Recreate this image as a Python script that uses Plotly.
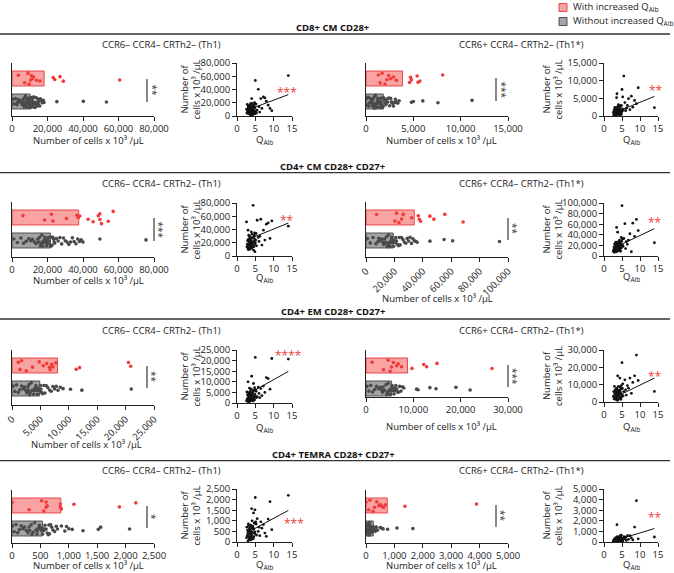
import plotly.graph_objects as go

W, H = 674, 573

# ------------------------------------------------------------------ data
section_titles = ["CD8+ CM CD28+", "CD4+ CM CD28+ CD27+",
                  "CD4+ EM CD28+ CD27+", "CD4+ TEMRA CD28+ CD27+"]
subset_titles = ["CCR6– CCR4– CRTh2– (Th1)", "CCR6+ CCR4– CRTh2– (Th1*)"]
cat_without = "Without increased Q<sub>Alb</sub>"
cat_with = "With increased Q<sub>Alb</sub>"
x_title = "Number of cells x 10³ /µL"
sc_y_title = "Number of<br>cells x 10³ /µL"
sc_x_title = "Q<sub>Alb</sub>"

# bar means (cells x 10^3/uL)
bar_with = [18100, 3860, 37600, 34000, 8000, 8780, 860, 750]
bar_without = [10200, 1830, 21600, 19200, 4880, 5410, 535, 257]

# axis maxima and tick steps
x_max = [80000, 15000, 80000, 100000, 25000, 30000, 2500, 5000]
x_step = [20000, 5000, 20000, 20000, 5000, 10000, 500, 1000]
q_max = 15
q_step = 5

sig_bar = ["**", "***", "***", "**", "**", "***", "*", "**"]
sig_corr = ["***", "**", "**", "**", "****", "**", "***", "**"]

# individual values, with increased QAlb
with_p1 = [3600, 7100, 9000, 9600, 10500, 10900, 11500, 12100, 13900, 15800,
           23200, 24100, 27000, 28900, 60700]
with_p2 = [1300, 1500, 1700, 2000, 2200, 2400, 2600, 2900, 3200, 4600, 4800,
           4700, 5500, 5400, 5700, 8100]
with_p3 = [6200, 18400, 22200, 23100, 30700, 36700, 37300, 38200, 42900, 45700,
           48600, 49500, 49500, 50400, 54200, 57000]
with_p4 = [7500, 20400, 21500, 23200, 25100, 26200, 32100, 36800, 37500, 38400,
           45000, 47800, 55500, 68400]
with_p5 = [1100, 1400, 1700, 2500, 3600, 4800, 5500, 6100, 6600, 6700, 7000,
           7200, 7700, 11300, 11900, 20500, 20900]
with_p6 = [1300, 3700, 4700, 5100, 5400, 5800, 6500, 6800, 7500, 9700, 12200,
           12800, 15000, 26600]
with_p7 = [0, 300, 520, 560, 600, 600, 620, 850, 850, 870, 1090, 1890, 2180]
with_p8 = [0, 100, 140, 250, 300, 380, 450, 500, 560, 620, 680, 1370, 3890]

# individual values, without increased QAlb
without_p1 = [500, 1200, 2000, 2800, 3500, 4200, 4800, 5300, 5800, 6200, 6600,
              7000, 7300, 7600, 7900, 8200, 8500, 8800, 9000, 9300, 9600, 9800,
              10000, 10300, 10500, 10800, 11000, 11300, 11500, 11800, 12000,
              12300, 12600, 12900, 13200, 13500, 13800, 14100, 14400, 14800,
              15200, 15600, 16000, 16500, 17000, 17600, 18000, 6800, 8000, 9100,
              10600, 11600, 12700, 9400, 7700, 13000, 3000, 15000, 25300, 40200,
              53200]
without_p2 = [50, 150, 250, 350, 450, 550, 650, 750, 850, 950, 1000, 1100, 1150,
              1200, 1300, 1350, 1400, 1500, 1550, 1600, 1700, 1750, 1800, 1900,
              2000, 2100, 2200, 2300, 2400, 2500, 2600, 2700, 2800, 2900, 3000,
              3100, 3200, 3350, 3500, 300, 600, 900, 1250, 1650, 2050, 700, 1050,
              1450, 800, 4800, 5000, 6000, 7600, 11200]
without_p3 = [1000, 3000, 5000, 6500, 8000, 9500, 10500, 11500, 12500, 13500,
              14500, 15000, 15500, 16000, 16500, 17000, 17500, 18000, 18500,
              19000, 19500, 20000, 20500, 21000, 21500, 22000, 22500, 23000,
              23500, 24000, 25000, 26000, 27000, 28000, 29000, 30000, 31000,
              32000, 33000, 34000, 35000, 36000, 37000, 38000, 39000, 40000,
              17200, 19800, 21800, 23800, 16800, 18800, 38800, 49500, 75500]
without_p4 = [1000, 3000, 5000, 7000, 8500, 10000, 11000, 12000, 13000, 14000,
              15000, 15500, 16000, 16500, 17000, 17500, 18000, 18500, 19000,
              19500, 20000, 20500, 21000, 22000, 23000, 24000, 25000, 26000,
              27000, 28000, 29000, 30000, 31000, 32000, 33000, 34000, 35000,
              36000, 12500, 14500, 17800, 21500, 23500, 9000, 45000, 55000,
              61000, 94000]
without_p5 = [200, 500, 800, 1100, 1400, 1700, 2000, 2200, 2400, 2600, 2800,
              3000, 3200, 3400, 3600, 3800, 4000, 4200, 4400, 4600, 4800, 5000,
              5200, 5400, 5600, 5800, 6000, 6300, 6600, 6900, 7200, 7500, 7800,
              8100, 8500, 9000, 3100, 3900, 4500, 5100, 2900, 4300, 10300, 12300,
              21000]
without_p6 = [200, 600, 1000, 1400, 1800, 2200, 2600, 3000, 3300, 3600, 3900,
              4200, 4500, 4700, 4900, 5100, 5300, 5500, 5700, 5900, 6100, 6300,
              6500, 6700, 6900, 7100, 7400, 7700, 8000, 4400, 5000, 5600, 6200,
              3500, 10700, 11000, 13500, 14800, 19000, 22000]
without_p7 = [10, 40, 70, 100, 130, 160, 190, 220, 250, 280, 310, 340, 370, 400,
              420, 440, 460, 480, 500, 520, 540, 560, 580, 600, 620, 640, 660,
              680, 700, 720, 750, 780, 800, 350, 450, 550, 650, 300, 870, 930,
              960, 1000, 1060, 1250, 1520, 1560, 2070]
without_p8 = [5, 15, 25, 35, 45, 55, 65, 75, 85, 95, 105, 115, 125, 135, 145,
              160, 175, 190, 205, 220, 240, 260, 280, 300, 330, 360, 400, 110,
              130, 150, 90, 70, 500, 560, 600, 760, 1090, 1650]

# correlation data: QAlb per patient and cell counts per panel
q_alb = [14.0, 9.5, 9.0, 8.5, 8.0, 7.6, 7.2, 6.8, 6.5, 6.2, 6.0, 5.8, 5.5, 5.2,
         5.0, 4.9, 4.8, 4.7, 4.6, 4.5, 4.5, 4.4, 4.3, 4.2, 4.1, 4.0, 4.0, 3.9,
         3.8, 3.8, 3.7, 3.6, 3.6, 3.5, 3.5, 3.4, 3.3, 3.3, 3.2, 3.1, 3.0, 3.0,
         2.9, 2.8, 2.7, 2.6, 5.1, 4.9, 4.6, 4.2, 3.9, 3.7, 3.4, 3.1, 4.8, 5.3,
         4.4, 3.6, 4.0, 3.2]
cells_p1 = [61000, 8000, 11400, 16400, 22400, 27300, 28800, 11400, 26300, 6000,
            14000, 40200, 9000, 18000, 53600, 12000, 5000, 15000, 8000, 17000,
            3000, 10000, 14000, 6000, 19000, 26300, 9000, 12500, 4000, 15500,
            7000, 11000, 2000, 13000, 8500, 16000, 5500, 10500, 14500, 3500,
            9500, 12000, 6500, 17500, 4500, 10000, 7500, 3500, 12500, 1500,
            7000, 18500, 11500, 15000, 20000, 4500, 6000, 13500, 2500, 8000]
cells_p2 = [2360, 8000, 3500, 4400, 2500, 5600, 1800, 4900, 3000, 2200, 1500,
            3800, 11300, 5400, 7500, 1200, 500, 2800, 900, 1800, 300, 1500, 2300,
            700, 1100, 3200, 400, 1900, 800, 1300, 2600, 600, 1000, 5200, 1600,
            200, 900, 2100, 1400, 500, 1200, 2400, 700, 1700, 300, 1000, 2000,
            1300, 600, 2900, 1500, 800, 1100, 400, 3000, 1600, 900, 6300, 1400,
            700]
cells_p3 = [45000, 53000, 26500, 50000, 48000, 24000, 39000, 16500, 55500,
            30000, 22000, 28000, 54000, 34000, 20000, 25000, 18000, 31000, 14000,
            22000, 9000, 76500, 27000, 16000, 33000, 20000, 12000, 36500, 23000,
            15000, 28000, 19000, 10500, 25000, 17000, 30000, 13000, 21000, 26000,
            16000, 39000, 11000, 23000, 18000, 14000, 51500, 24000, 6500, 29000,
            19500, 12500, 24500, 20500, 9500, 35000, 15500, 27500, 22500, 17500,
            31500]
cells_p4 = [25000, 48000, 69000, 37000, 62000, 8000, 42000, 30000, 22000, 27000,
            14000, 61000, 33000, 20000, 95000, 28000, 15000, 22000, 9000, 18000,
            25000, 12000, 30000, 17000, 21000, 10000, 24000, 14000, 19000, 45000,
            11000, 23000, 16000, 54000, 8000, 20000, 13000, 26000, 18000, 10000,
            15000, 22000, 7000, 17000, 12000, 9000, 32000, 19000, 26000, 13000,
            21000, 16000, 11000, 24000, 35000, 18000, 14000, 20000, 27000, 12000]
cells_p5 = [20700, 21000, 6500, 11500, 12000, 5000, 8000, 3500, 6800, 2500,
            4500, 7500, 3000, 5500, 21500, 4000, 1500, 6000, 2500, 3500, 9200,
            1000, 5000, 2000, 4500, 12650, 3000, 6500, 1500, 4000, 2500, 5500,
            800, 3500, 2000, 7000, 1200, 4500, 3000, 500, 10000, 2500, 3800, 1800,
            5200, 1000, 6200, 2800, 3200, 1400, 4200, 2200, 3600, 1600, 7200,
            2600, 5800, 3400, 1900, 4800]
cells_p6 = [6100, 12400, 27100, 15100, 11300, 5000, 13800, 8000, 9500, 4000,
            7000, 12800, 6000, 10500, 22700, 3000, 7500, 1500, 5500, 8500, 2500,
            13800, 4500, 6500, 2000, 9000, 3500, 5000, 15100, 1000, 7000, 3000,
            6000, 2000, 8000, 4000, 1500, 5500, 3000, 7000, 2500, 4500, 9000, 1800,
            6000, 3200, 7800, 4200, 2800, 6800, 3800, 5200, 2200, 4800, 9500, 3500,
            5800, 1200, 6300, 2600]
cells_p7 = [2200, 580, 1900, 1080, 270, 420, 820, 650, 950, 300, 700, 500, 1100,
            850, 2100, 1520, 400, 900, 250, 600, 1370, 150, 750, 450, 1000, 1570,
            300, 650, 100, 500, 800, 200, 550, 350, 700, 150, 450, 600, 250, 850,
            400, 50, 550, 300, 700, 200, 950, 480, 620, 180, 380, 720, 120, 520,
            880, 330, 660, 240, 420, 780]
cells_p8 = [470, 300, 3900, 1410, 200, 380, 600, 250, 600, 150, 450, 300, 500,
            100, 350, 200, 50, 400, 150, 250, 600, 100, 300, 50, 450, 200, 120,
            350, 80, 250, 500, 1630, 150, 300, 60, 200, 400, 100, 250, 30, 180,
            320, 90, 220, 140, 60, 280, 160, 380, 110, 240, 70, 190, 130, 650,
            230, 170, 340, 90, 210]

# linear fits
fit_slope = [2091, 415, 2243, 3225, 970, 1015, 93.4, 102.5]
fit_intercept = [3030, -270, 18270, 6430, 1320, -400, 182, -170]

with_vals = [with_p1, with_p2, with_p3, with_p4, with_p5, with_p6, with_p7, with_p8]
without_vals = [without_p1, without_p2, without_p3, without_p4, without_p5,
                without_p6, without_p7, without_p8]
cells_vals = [cells_p1, cells_p2, cells_p3, cells_p4, cells_p5, cells_p6,
              cells_p7, cells_p8]

# ------------------------------------------------------------------ style
RED_FILL = "#F9A3A3"
RED_LINE = "#E8474A"
RED_DOT = "#F23A3A"
GRAY_FILL = "#A3A3A3"
GRAY_LINE = "#505050"
GRAY_DOT = "#4A4A4A"
INK = "#222222"
FONT = "Open Sans"
FS = 9.5


def fx(px):
    return px / W


def fy(py):
    return 1 - py / H


def note(x, y, text, size=FS, color=INK, xanchor="center", angle=0, bold=False):
    return dict(x=fx(x), y=fy(y), xref="paper", yref="paper",
                text=f"<b>{text}</b>" if bold else text, showarrow=False,
                xanchor=xanchor, yanchor="middle", textangle=angle,
                font=dict(size=size, color=color))


# panel geometry in pixels
bar_xpx = [(12, 154), (366, 508)]
sc_xpx = [(237, 292), (604, 658)]
bar_top = [63, 63, 202, 202, 350, 350, 490, 490]
bar_bot = [115.5, 115.5, 257, 257, 405, 397, 543, 543]
sc_top = [63, 63, 203, 203, 350, 350, 489, 489]
sc_bot = [116, 116, 256, 256, 403, 402, 542, 542]
tick_angle = [0, 0, 0, -45, -45, 0, 0, 0]
bar_title_y = [140, 140, 280, 298, 444, 426, 565, 565]
bar_title_x = [88, 441, 88, 437, 87, 441, 88, 441]
q_title_y = [140, 140, 278, 277, 428, 427, 565, 565]
q_title_x = [264, 631]
sc_ytitle_x = [190, 552]
bracket_x = [147, 496, 154, 508, 147, 508, 147, 496]
bracket_y = [(79, 102), (78, 101), (218, 241), (218, 240), (366, 388),
             (365, 387), (506, 528), (505, 527)]
corr_star_xy = [(287, 89), (656, 87), (287, 217), (655, 219), (288, 352),
                (655, 373), (294, 520), (655, 514)]
row_title_y = [28, 166.7, 311.7, 454]
row_line_y = [34, 172.7, 319, 460.7]
row_sub_y = [44.6, 183.3, 330, 470]
sub_x = [161, 521]

fig = go.Figure()
layout = dict(
    template="none",
    width=W, height=H, margin=dict(l=0, r=0, t=0, b=0, pad=0, autoexpand=False),
    paper_bgcolor="white", plot_bgcolor="white", showlegend=False,
    font=dict(family=FONT, size=FS, color=INK),
    boxmode="overlay",
)
annotations = []
shapes = []

for i in range(8):
    col = i % 2
    bx, by = f"x{2*i+1}", f"y{2*i+1}"
    sx, sy = f"x{2*i+2}", f"y{2*i+2}"
    bxa, bya = f"xaxis{2*i+1}", f"yaxis{2*i+1}"
    sxa, sya = f"xaxis{2*i+2}", f"yaxis{2*i+2}"

    # ---- bar + dots
    fig.add_trace(go.Bar(
        y=[cat_without, cat_with], x=[bar_without[i], bar_with[i]],
        orientation="h", width=0.65,
        marker=dict(color=[GRAY_FILL, RED_FILL],
                    line=dict(color=[GRAY_LINE, RED_LINE], width=1)),
        xaxis=bx, yaxis=by, hoverinfo="skip"))
    for vals, cat, col_dot in ((without_vals[i], cat_without, GRAY_DOT),
                               (with_vals[i], cat_with, RED_DOT)):
        fig.add_trace(go.Box(
            x=vals, y=[cat] * len(vals), orientation="h",
            boxpoints="all", jitter=1.0, pointpos=0, width=0.6,
            fillcolor="rgba(0,0,0,0)", line=dict(color="rgba(0,0,0,0)", width=0),
            marker=dict(color=col_dot, size=3.6),
            xaxis=bx, yaxis=by, hoverinfo="skip"))

    top, bot = bar_top[i], bar_bot[i]
    red_c = top + 15.5
    gray_c = red_c + 23
    yr = [-(bot - gray_c) / 23, 1 + (red_c - top) / 23]
    x0, x1 = bar_xpx[col]
    layout[bxa] = dict(
        domain=[fx(x0), fx(x1)], anchor=by, range=[0, x_max[i]],
        tickmode="linear", tick0=0, dtick=x_step[i], tickformat=",",
        ticks="outside", ticklen=4, tickwidth=1, tickcolor=INK,
        showline=True, linecolor=INK, linewidth=1, showgrid=False,
        zeroline=False, tickangle=tick_angle[i], automargin=False,
        tickfont=dict(size=FS, color=INK))
    layout[bya] = dict(
        domain=[fy(bot), fy(top)], anchor=bx, type="category",
        categoryorder="array", categoryarray=[cat_without, cat_with],
        range=yr, showline=True, linecolor=INK, linewidth=1, automargin=False,
        showticklabels=False, ticks="", showgrid=False, zeroline=False)

    annotations.append(note(bar_title_x[i], bar_title_y[i], x_title))

    # significance bracket
    b0, b1 = bracket_y[i]
    shapes.append(dict(type="line", xref="paper", yref="paper",
                       x0=fx(bracket_x[i]), x1=fx(bracket_x[i]),
                       y0=fy(b0), y1=fy(b1),
                       line=dict(color="#3a3a3a", width=1.2)))
    annotations.append(note(bracket_x[i] + 5, (b0 + b1) / 2, sig_bar[i],
                            size=10, color="#3a3a3a", angle=90))

    # ---- scatter with regression
    q = q_alb
    fig.add_trace(go.Scatter(
        x=q, y=cells_vals[i], mode="markers",
        marker=dict(color="#111111", size=2.8), cliponaxis=False,
        xaxis=sx, yaxis=sy, hoverinfo="skip"))
    qx = [min(q), max(q)]
    fig.add_trace(go.Scatter(
        x=qx, y=[fit_slope[i] * v + fit_intercept[i] for v in qx],
        mode="lines", line=dict(color="#111111", width=1),
        xaxis=sx, yaxis=sy, hoverinfo="skip"))
    s0, s1 = sc_xpx[col]
    layout[sxa] = dict(
        domain=[fx(s0), fx(s1)], anchor=sy, range=[0, q_max],
        tickmode="linear", tick0=0, dtick=q_step, ticks="outside", ticklen=4,
        tickwidth=1, tickcolor=INK, showline=True, linecolor=INK, linewidth=1,
        showgrid=False, zeroline=False, automargin=False,
        tickfont=dict(size=FS, color=INK))
    layout[sya] = dict(
        domain=[fy(sc_bot[i]), fy(sc_top[i])], anchor=sx, range=[0, x_max[i]],
        tickmode="linear", tick0=0, dtick=x_step[i], tickformat=",",
        ticks="outside", ticklen=4, tickwidth=1, tickcolor=INK,
        showline=True, linecolor=INK, linewidth=1, showgrid=False,
        zeroline=False, automargin=False, tickfont=dict(size=FS, color=INK))
    annotations.append(note(q_title_x[col], q_title_y[i], sc_x_title))
    annotations.append(note(sc_ytitle_x[col], (sc_top[i] + sc_bot[i]) / 2,
                            sc_y_title, angle=-90))
    cx, cy = corr_star_xy[i]
    annotations.append(note(cx, cy + 3, sig_corr[i], size=12, color="#F23A3A"))

# ---- section headers
for r in range(4):
    annotations.append(note(333, row_title_y[r], section_titles[r],
                            color="#111111", bold=True))
    shapes.append(dict(type="line", xref="paper", yref="paper",
                       x0=0, x1=fx(670), y0=fy(row_line_y[r]), y1=fy(row_line_y[r]),
                       line=dict(color="#333333", width=1.3)))
    for c in range(2):
        annotations.append(note(sub_x[c], row_sub_y[r], subset_titles[c]))

# ---- legend
for k, (lab, fill, edge) in enumerate(((cat_with, RED_FILL, RED_LINE),
                                        (cat_without, GRAY_FILL, GRAY_LINE))):
    yc = 7.5 + 14 * k
    shapes.append(dict(type="rect", xref="paper", yref="paper",
                       x0=fx(559), x1=fx(567), y0=fy(yc + 4), y1=fy(yc - 4),
                       fillcolor=fill, line=dict(color=edge, width=1)))
    annotations.append(note(571, yc, lab, xanchor="left"))

layout["annotations"] = annotations
layout["shapes"] = shapes
fig.update_layout(**layout)
fig.write_html("out.html", config={"displayModeBar": False},
               post_script="document.body.style.margin='0';"
                           "document.body.style.padding='0';")
